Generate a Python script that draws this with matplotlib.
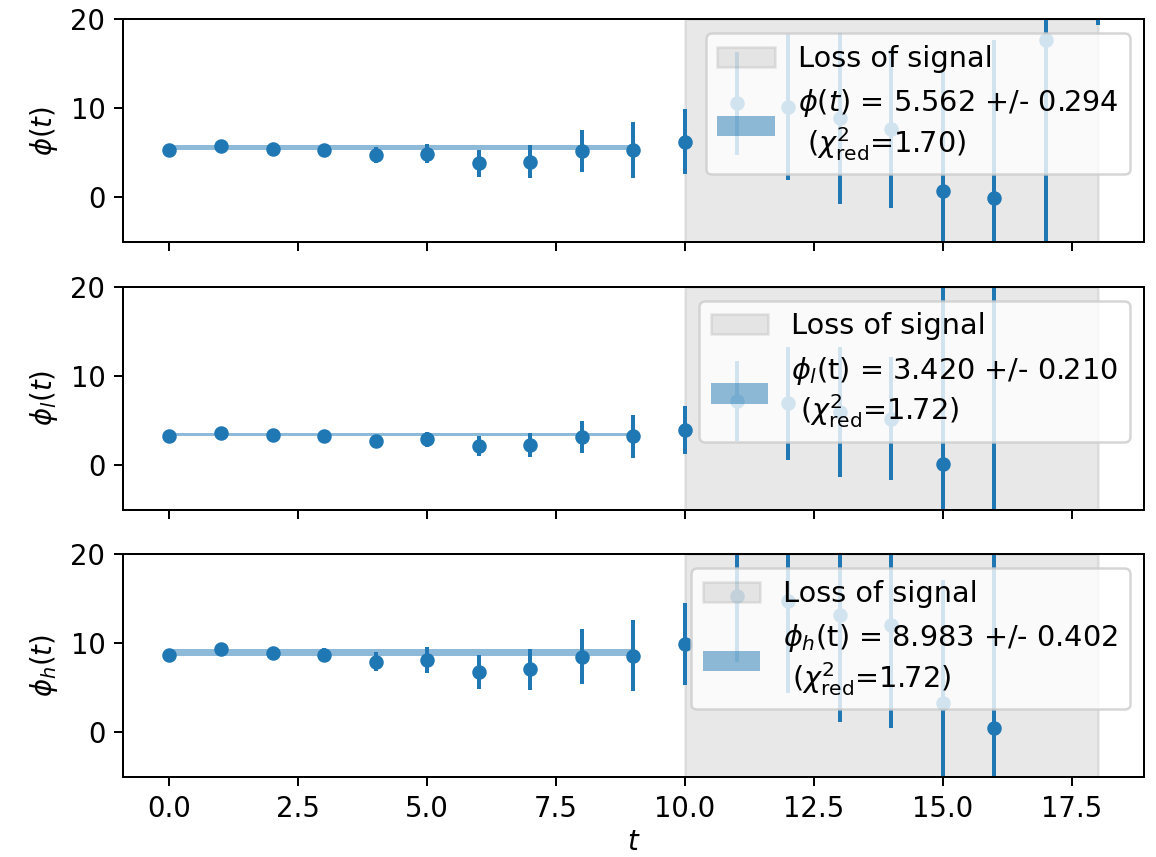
import numpy as np
import matplotlib
matplotlib.use("Agg")
import matplotlib.pyplot as plt

# Time steps
t = np.arange(19)

# Full signal phi(t) with uncertainties
phi = [5.3, 5.8, 5.46, 5.3, 4.7, 4.9, 3.8, 4.0, 5.2, 5.3,
       6.25, 10.55, 10.1, 8.85, 7.7, 0.68, -0.08, 17.63, 30.0]
phi_err = [0.25, 0.3, 0.35, 0.45, 0.9, 1.1, 1.5, 1.85, 2.4, 3.15,
           3.65, 5.8, 8.2, 9.57, 8.9, 13.67, 17.7, 25.0, 10.7]

# Light component phi_l(t)
phi_l = [3.2, 3.58, 3.35, 3.2, 2.71, 2.86, 2.11, 2.26, 3.09, 3.2,
         3.92, 7.2, 6.9, 5.9, 5.16, 0.05, -8.0, np.nan, np.nan]
phi_l_err = [0.2, 0.25, 0.3, 0.35, 0.5, 0.8, 1.1, 1.36, 1.8, 2.37,
             2.73, 4.5, 6.33, 7.3, 6.9, 21.0, 30.0, np.nan, np.nan]

# Heavy component phi_h(t)
phi_h = [8.7, 9.34, 8.89, 8.7, 7.95, 8.17, 6.82, 7.08, 8.51, 8.62,
         9.87, 15.3, 14.72, 13.14, 12.09, 3.35, 0.45, np.nan, np.nan]
phi_h_err = [0.4, 0.45, 0.5, 0.75, 1.1, 1.45, 1.9, 2.3, 3.05, 3.95,
             4.6, 7.35, 10.24, 11.98, 11.56, 13.8, 21.0, np.nan, np.nan]

# Constant fits over the plateau t = 0..9
fit_vals = [5.562, 3.420, 8.983]
fit_errs = [0.294, 0.210, 0.402]
chi2_red = [1.70, 1.72, 1.72]
fit_end = 9

# Window where the signal is lost
loss_start, loss_end = 10, 18

ylabels = [r"$\phi(t)$", r"$\phi_l(t)$", r"$\phi_h(t)$"]
fit_names = [r"$\phi(t)$", r"$\phi_l$(t)", r"$\phi_h$(t)"]
series = [(phi, phi_err), (phi_l, phi_l_err), (phi_h, phi_h_err)]

plt.rcParams["font.size"] = 11

fig, axes = plt.subplots(3, 1, sharex=True, figsize=(1156 / 180, 857 / 180), dpi=180)
fig.subplots_adjust(left=0.1064, right=0.9896, top=0.9778, bottom=0.0933, hspace=0.2)

for ax, (y, yerr), ylab, name, fv, fe, c2 in zip(
        axes, series, ylabels, fit_names, fit_vals, fit_errs, chi2_red):
    ax.errorbar(t, y, yerr=yerr, fmt="o", color="C0", markersize=4.8, elinewidth=1.6)
    ax.axvspan(loss_start, loss_end, color="gray", alpha=0.18, label="Loss of signal")
    tt = t[:fit_end + 1]
    ax.fill_between(tt, fv - fe, fv + fe, color="C0", alpha=0.5, linewidth=0,
                    label=f"{name} = {fv:.3f} +/- {fe:.3f}\n ($\\chi^2_{{\\rm red}}$={c2:.2f})")
    ax.set_ylim(-5, 20)
    ax.set_ylabel(ylab)
    ax.legend(loc="upper right", fontsize=11.5)

axes[-1].set_xlabel(r"$t$", labelpad=2)

fig.savefig("out.png", dpi=180)
